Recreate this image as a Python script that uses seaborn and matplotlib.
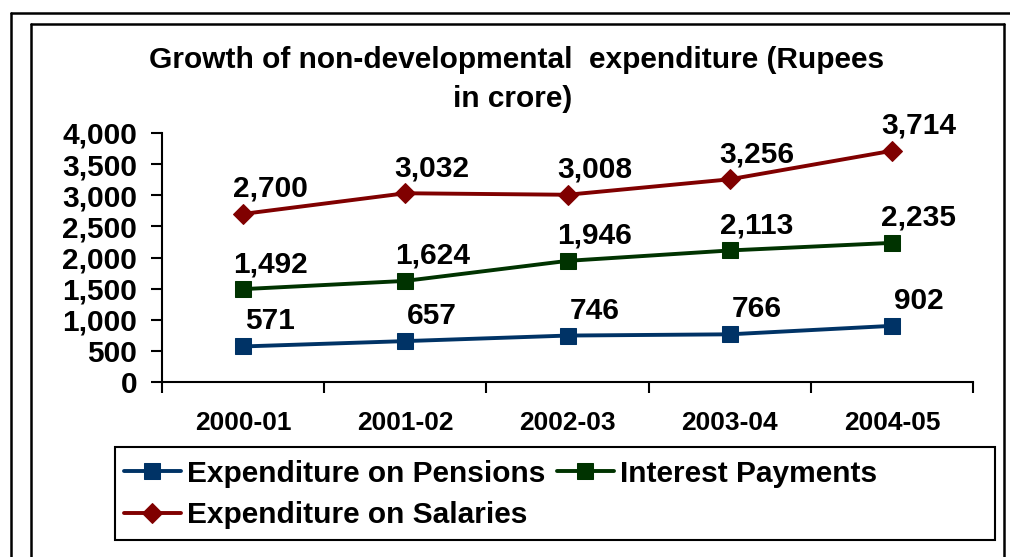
import numpy as np
import pandas as pd
import matplotlib
matplotlib.use('Agg')
import matplotlib.pyplot as plt
import seaborn as sns
from matplotlib.lines import Line2D

years = ['2000-01', '2001-02', '2002-03', '2003-04', '2004-05']
pensions = [571, 657, 746, 766, 902]
interest = [1492, 1624, 1946, 2113, 2235]
salaries = [2700, 3032, 3008, 3256, 3714]

series_names = ['Expenditure on Pensions', 'Interest Payments', 'Expenditure on Salaries']
series_colors = ['#003366', '#003300', '#800000']
series_markers = ['s', 's', 'D']

sns.set_theme(style='white')
plt.rcParams['font.family'] = ['Liberation Sans', 'DejaVu Sans']
plt.rcParams['font.weight'] = 'bold'
plt.rcParams['text.color'] = 'black'
plt.rcParams['xtick.color'] = 'black'
plt.rcParams['ytick.color'] = 'black'

W, H = 1010, 557
fig = plt.figure(figsize=(W / 100, H / 100), dpi=100)
ax = fig.add_axes([162 / W, 1 - 382 / H, (973 - 162) / W, (382 - 133) / H])

handles = []
for name, vals, col, mk in zip(series_names, [pensions, interest, salaries], series_colors, series_markers):
    df = pd.DataFrame({'Year': years, 'Value': vals})
    sns.lineplot(data=df, x='Year', y='Value', ax=ax, color=col, linewidth=2.8,
                 marker=mk, markersize=11 if mk == 's' else 10, markeredgecolor=col,
                 sort=False, legend=False)
    handles.append(ax.lines[-1])
    for x, v in zip(years, vals):
        ax.annotate(f'{v:,}', (x, v), xytext=(27, 25), textcoords='offset pixels',
                    ha='center', va='center', fontsize=21.5, fontweight='bold', color='black')

ax.set_ylim(0, 4000)
ax.set_xlim(-0.5, len(years) - 0.5)
ax.set_yticks(np.arange(0, 4001, 500))
ax.yaxis.set_major_formatter(matplotlib.ticker.FuncFormatter(lambda v, p: f'{int(v):,}'))
ax.set_xticks(range(len(years)))
ax.set_xticklabels(years)
ax.set_xticks(np.arange(-0.5, len(years), 1.0), minor=True)
ax.tick_params(axis='x', which='major', bottom=True, length=0, pad=21, labelsize=19)
ax.tick_params(axis='x', which='minor', bottom=True, length=8, width=1.5, direction='out')
ax.tick_params(axis='y', which='major', left=True, length=8, width=1.5, direction='out', pad=10, labelsize=21.5)
for lab in ax.get_xticklabels() + ax.get_yticklabels():
    lab.set_fontweight('bold')
ax.set_xlabel('')
ax.set_ylabel('')
for s in ['top', 'right']:
    ax.spines[s].set_visible(False)
for s in ['left', 'bottom']:
    ax.spines[s].set_color('black')
    ax.spines[s].set_linewidth(1.5)

fig.text(517 / W, 1 - 60 / H, 'Growth of non-developmental  expenditure (Rupees',
         ha='center', va='center', fontsize=21.5, fontweight='bold')
fig.text(513 / W, 1 - 99 / H, 'in crore)',
         ha='center', va='center', fontsize=21.5, fontweight='bold')

# frames
def fline(x0, y0, x1, y1, lw):
    fig.add_artist(Line2D([x0 / W, x1 / W], [1 - y0 / H, 1 - y1 / H], color='black', lw=lw,
                          transform=fig.transFigure))

fline(11, 13, 1012, 13, 1.8)
fline(11, 13, 11, 560, 1.8)
fline(31, 24, 1004, 24, 1.8)
fline(31, 24, 31, 560, 1.8)
fline(1004, 24, 1004, 560, 1.8)

# legend box
fig.add_artist(plt.Rectangle((115 / W, 1 - 540 / H), (995 - 115) / W, (540 - 447) / H,
                             fill=False, ec='black', lw=1.5, transform=fig.transFigure))
order = [0, 2, 1]
leg = fig.legend([handles[i] for i in order], [series_names[i] for i in order],
                 loc='upper left', bbox_to_anchor=(100 / W, 1 - 436 / H), ncol=2,
                 frameon=False, fontsize=21.5, handlelength=1.9, handletextpad=0.2,
                 columnspacing=0.4, labelspacing=0.45, borderpad=0.3)
for t in leg.get_texts():
    t.set_fontweight('bold')

fig.savefig('out.png', dpi=100)
